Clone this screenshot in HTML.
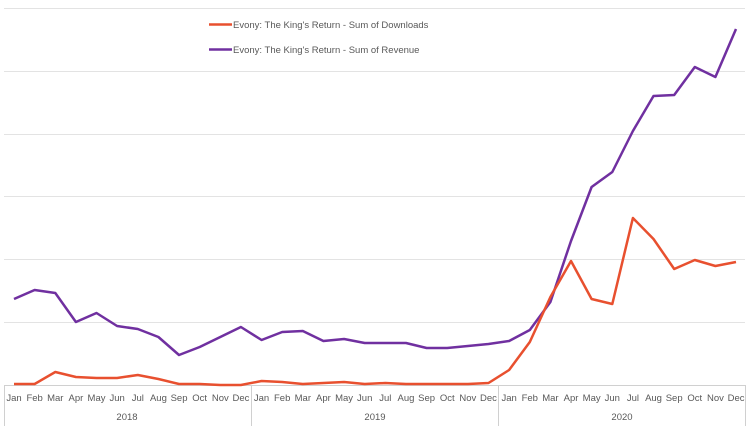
<!DOCTYPE html>
<html><head><meta charset="utf-8"><style>
html,body{margin:0;padding:0;background:#fff;width:750px;height:432px;overflow:hidden}
text{font-family:"Liberation Sans",sans-serif;fill:#595959}
</style></head><body>
<svg width="750" height="432" xmlns="http://www.w3.org/2000/svg">
<g stroke="#e3e3e3" stroke-width="1">
<line x1="4" x2="745" y1="8.5" y2="8.5"/><line x1="4" x2="745" y1="71.5" y2="71.5"/>
<line x1="4" x2="745" y1="134.5" y2="134.5"/><line x1="4" x2="745" y1="196.5" y2="196.5"/>
<line x1="4" x2="745" y1="259.5" y2="259.5"/><line x1="4" x2="745" y1="322.5" y2="322.5"/>
</g>
<g stroke="#d0d0d0" stroke-width="1">
<line x1="4" x2="745" y1="385.5" y2="385.5"/>
<line x1="4.5" x2="4.5" y1="385" y2="426"/><line x1="251.5" x2="251.5" y1="385" y2="426"/>
<line x1="498.5" x2="498.5" y1="385" y2="426"/><line x1="745.5" x2="745.5" y1="385" y2="426"/>
</g>
<g id="lbl" font-size="9.5" text-anchor="middle"></g>
<text x="127" y="420" font-size="9.5" text-anchor="middle">2018</text>
<text x="375" y="420" font-size="9.5" text-anchor="middle">2019</text>
<text x="622" y="420" font-size="9.5" text-anchor="middle">2020</text>
<line x1="209" x2="232" y1="24.5" y2="24.5" stroke="#e8502f" stroke-width="2.5"/>
<text x="233" y="28" font-size="9.5">Evony: The King's Return - Sum of Downloads</text>
<line x1="209" x2="232" y1="49.5" y2="49.5" stroke="#7030a0" stroke-width="2.5"/>
<text x="233" y="53" font-size="9.5">Evony: The King's Return - Sum of Revenue</text>
<polyline id="rev" fill="none" stroke="#7030a0" stroke-width="2.5" stroke-linejoin="round"/>
<polyline id="dl" fill="none" stroke="#e8502f" stroke-width="2.5" stroke-linejoin="round"/>
</svg>
<script>
var m=["Jan","Feb","Mar","Apr","May","Jun","Jul","Aug","Sep","Oct","Nov","Dec"];
var g=document.getElementById("lbl"),ns="http://www.w3.org/2000/svg";
function X(i){return 14+i*20.63;}
for(var i=0;i<36;i++){var t=document.createElementNS(ns,"text");t.setAttribute("x",X(i));t.setAttribute("y",401);t.textContent=m[i%12];g.appendChild(t);}
var rev=[299,290,293,322,313,326,329,337,355,347,337,327,340,332,331,341,339,343,343,343,348,348,346,344,341,330,302,241,187,172,131,96,95,67,77,29];
var dl=[384,384,372,377,378,378,375,379,384,384,385,385,381,382,384,383,382,384,383,384,384,384,384,383,370,342,297,261,299,304,218,239,269,260,266,262];
function P(a){return a.map(function(v,i){return X(i).toFixed(1)+","+v}).join(" ");}
document.getElementById("rev").setAttribute("points",P(rev));
document.getElementById("dl").setAttribute("points",P(dl));
</script>
</body></html>
